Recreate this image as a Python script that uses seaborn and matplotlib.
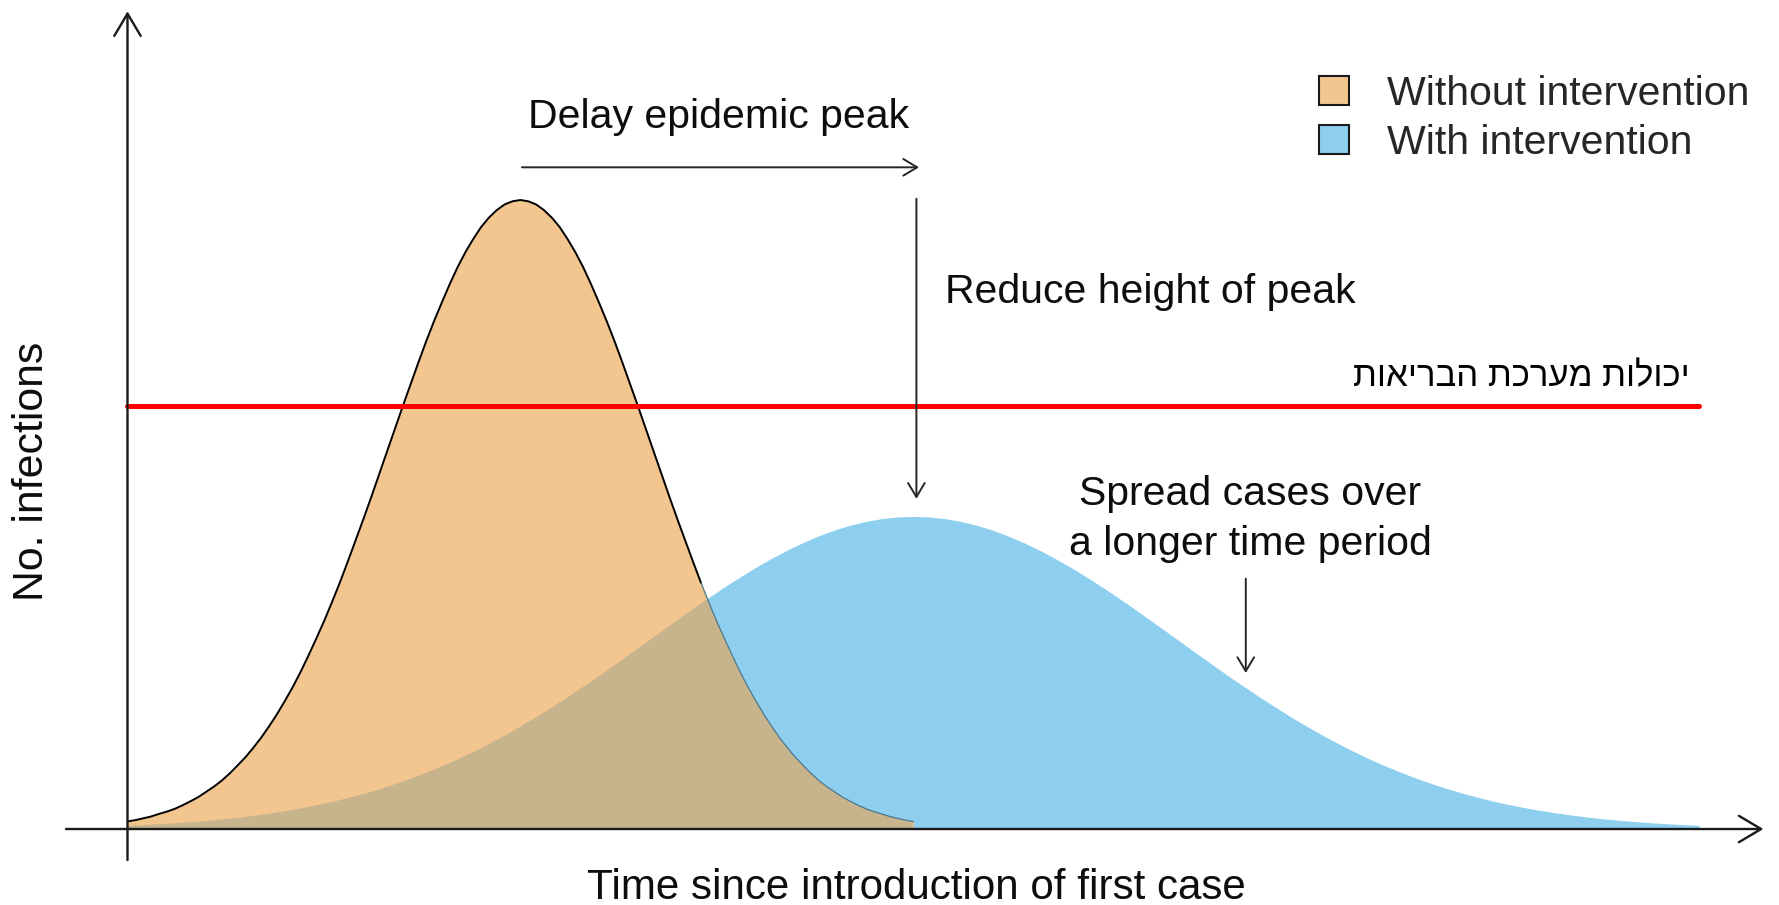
import numpy as np
import pandas as pd
import matplotlib
matplotlib.use("Agg")
import matplotlib.pyplot as plt
from matplotlib.patches import Patch
import seaborn as sns

# time since first case (arbitrary units) and infections
days = list(range(0, 101))
orange_days = [i / 2 for i in range(0, 101)]   # the sharp curve is read every half step

without_int = [1.2, 1.42, 1.7, 1.99, 2.4, 2.76, 3.2, 3.77, 4.4, 5.07,
               5.9, 6.74, 7.7, 8.83, 10.1, 11.4, 12.9, 14.5, 16.3, 18.2,
               20.3, 22.5, 24.9, 27.5, 30.2, 33.0, 36.0, 39.1, 42.4, 45.8,
               49.2, 52.7, 56.3, 59.9, 63.5, 67.1, 70.6, 74.1, 77.5, 80.7,
               83.7, 86.6, 89.3, 91.7, 93.8, 95.7, 97.2, 98.4, 99.3, 99.8,
               100.0,
               99.8, 99.3, 98.4, 97.2, 95.7, 93.8, 91.7, 89.3, 86.6, 83.7,
               80.7, 77.5, 74.1, 70.6, 67.1, 63.5, 59.9, 56.3, 52.7, 49.2,
               45.8, 42.4, 39.1, 36.0, 33.0, 30.2, 27.5, 24.9, 22.5, 20.3,
               18.2, 16.3, 14.5, 12.9, 11.4, 10.1, 8.83, 7.7, 6.74, 5.9,
               5.07, 4.4, 3.77, 3.2, 2.76, 2.4, 1.99, 1.7, 1.42, 1.2]

with_int = [0.59, 0.70, 0.84, 0.99, 1.16, 1.37, 1.60, 1.87, 2.18, 2.52,
            2.91, 3.35, 3.84, 4.38, 4.99, 5.66, 6.40, 7.20, 8.08, 9.04,
            10.07, 11.17, 12.36, 13.63, 14.97, 16.39, 17.88, 19.44, 21.05, 22.72,
            24.43, 26.19, 27.97, 29.77, 31.57, 33.35, 35.12, 36.84, 38.51, 40.11,
            41.63, 43.05, 44.37, 45.56, 46.63, 47.55, 48.31, 48.91, 49.35, 49.61,
            49.70,
            49.61, 49.35, 48.91, 48.31, 47.55, 46.63, 45.56, 44.37, 43.05, 41.63,
            40.11, 38.51, 36.84, 35.12, 33.35, 31.57, 29.77, 27.97, 26.19, 24.43,
            22.72, 21.05, 19.44, 17.88, 16.39, 14.97, 13.63, 12.36, 11.17, 10.07,
            9.04, 8.08, 7.20, 6.40, 5.66, 4.99, 4.38, 3.84, 3.35, 2.91,
            2.52, 2.18, 1.87, 1.60, 1.37, 1.16, 0.99, 0.84, 0.70, 0.59]

capacity = 67.2
legend_labels = ["Without intervention", "With intervention"]
capacity_label = "יכולות מערכת הבריאות"

orange = "#f3c58f"
blue = "#8ecff0"
overlap = "#c7b38c"
ink = "#0d0d0d"

sns.set_theme(style="white")
plt.rcParams["font.family"] = ["Liberation Sans", "DejaVu Sans"]

df_blue = pd.DataFrame({"day": days, "cases": with_int})
df_orange = pd.DataFrame({"day": orange_days, "cases": without_int})

fig = plt.figure(figsize=(17.79, 9.05), dpi=100)
ax = fig.add_axes([0, 0, 1, 1])
ax.set_xlim(-8.113, 105.09)
ax.set_ylim(-12.08, 131.8)
ax.axis("off")

# filled curves; the overlap is the blue area clipped to the orange one
ax.fill_between(df_blue["day"], 0, df_blue["cases"], color=blue, lw=0)
orange_fill = ax.fill_between(df_orange["day"], 0, df_orange["cases"], color=orange, lw=0)
brown = ax.fill_between(df_blue["day"], 0, df_blue["cases"], color=overlap, lw=0)
brown.set_clip_path(orange_fill.get_paths()[0], ax.transData)

# outline of the orange curve: black above blue, faint inside it
both = df_orange.merge(df_blue, on="day", suffixes=("_o", "_b"))
after_peak = both[both["day"] > 25]
cut = after_peak[after_peak["cases_o"] < after_peak["cases_b"]]["day"].min() - 0.5
sns.lineplot(data=df_orange[df_orange["day"] <= cut], x="day", y="cases",
             color="black", lw=1.4, estimator=None, sort=False, ax=ax,
             solid_joinstyle="round")
sns.lineplot(data=df_orange[df_orange["day"] >= cut], x="day", y="cases",
             color="#4a7891", lw=0.9, estimator=None, sort=False, ax=ax,
             solid_joinstyle="round")

# capacity line
ax.plot([0, 100], [capacity, capacity], color="#ff0000", lw=3.6)
ax.text(99.4, 71.9, capacity_label[::-1], ha="right", va="center",
        fontsize=25, color="black")

# axes with arrow heads
axis_arrow = dict(arrowstyle="->,head_length=1.6,head_width=0.95", lw=1.7,
                  color="#1a1a1a", shrinkA=0, shrinkB=0, mutation_scale=10)
ax.annotate("", xy=(104.1, 0), xytext=(-3.91, 0), arrowprops=axis_arrow)
ax.annotate("", xy=(0, 130.0), xytext=(0, -4.93), arrowprops=axis_arrow)

ax.text(50.17, -9.45, "Time since introduction of first case", ha="center",
        va="center", fontsize=30.3, color=ink)
ax.text(-6.08, 56.9, "No. infections", ha="center", va="center",
        rotation=90, fontsize=30.8, color=ink)

# annotations
small_arrow = dict(arrowstyle="->,head_length=1.0,head_width=0.6", lw=1.4,
                   color="#262626", shrinkA=0, shrinkB=0, mutation_scale=10)
ax.annotate("", xy=(50.37, 105.2), xytext=(25.1, 105.2), arrowprops=small_arrow)
ax.text(25.46, 113.2, "Delay epidemic peak", ha="left", va="center",
        fontsize=29.5, color=ink)
ax.annotate("", xy=(50.2, 52.5), xytext=(50.2, 100.2), arrowprops=small_arrow)
ax.text(52.02, 85.4, "Reduce height of peak", ha="left", va="center",
        fontsize=29.5, color=ink)
ax.text(71.43, 49.26, "Spread cases over\na longer time period", ha="center",
        va="center", fontsize=29.5, color=ink, multialignment="center",
        linespacing=1.39)
ax.annotate("", xy=(71.16, 24.8), xytext=(71.16, 39.8), arrowprops=small_arrow)

handles = [Patch(facecolor=orange, edgecolor="#1a1a1a", lw=1.5),
           Patch(facecolor=blue, edgecolor="#1a1a1a", lw=1.5)]
fig.legend(handles=handles, labels=legend_labels, loc="upper left",
           bbox_to_anchor=(1319 / 1779, 1 - 75 / 905), frameon=False,
           fontsize=29.5, handlelength=0.72, handleheight=0.72,
           handletextpad=0.95, labelspacing=0.27, borderpad=0, borderaxespad=0)

fig.savefig("out.png", dpi=100)
